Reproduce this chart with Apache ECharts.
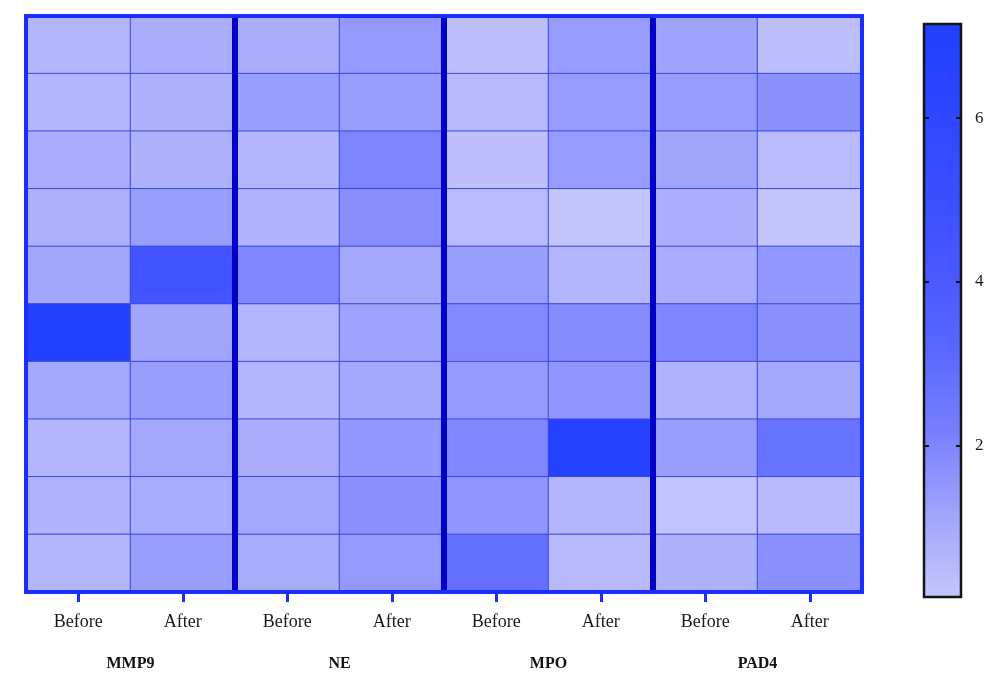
<!DOCTYPE html>
<html><head><meta charset="utf-8">
<script src="https://cdn.jsdelivr.net/npm/echarts@6/dist/echarts.min.js"></script>
<style>html,body{margin:0;padding:0;background:#fff}#c{width:1000px;height:691px}</style>
</head><body><div id="c"></div>
<script>
const markers = ['MMP9', 'NE', 'MPO', 'PAD4'];
const timepoints = ['Before', 'After'];
const rowIds = ['1', '2', '3', '4', '5', '6', '7', '8', '9', '10'];

const mmp9Before = [0.6, 0.65, 0.9, 0.8, 1.1, 7.1, 1.05, 0.65, 0.75, 0.6];
const mmp9After  = [0.9, 0.8, 0.8, 1.35, 4.6, 1.15, 1.35, 1.05, 0.95, 1.35];
const neBefore   = [0.9, 1.35, 0.65, 0.7, 1.95, 0.6, 0.65, 0.9, 1.05, 0.95];
const neAfter    = [1.45, 1.35, 2.05, 1.75, 1.05, 1.2, 1.05, 1.5, 1.7, 1.45];
const mpoBefore  = [0.4, 0.55, 0.35, 0.5, 1.35, 1.9, 1.45, 1.95, 1.55, 2.8];
const mpoAfter   = [1.4, 1.4, 1.4, 0.2, 0.65, 1.85, 1.55, 6.8, 0.65, 0.55];
const pad4Before = [1.2, 1.4, 1.15, 0.85, 0.9, 2.0, 0.75, 1.35, 0.25, 0.8];
const pad4After  = [0.4, 1.7, 0.5, 0.2, 1.5, 1.7, 1.05, 2.7, 0.55, 1.7];

const colorbarTicks = [2, 4, 6];
const scaleMin = 0.15, scaleMax = 7.15;

const columnsData = [mmp9Before, mmp9After, neBefore, neAfter, mpoBefore, mpoAfter, pad4Before, pad4After];

const colorStops = ['#c6c6fc', '#a0a5fc', '#7880fe', '#5a68ff', '#4858ff', '#3a4eff', '#2c45ff', '#2040ff'];

const categories = [];
markers.forEach(m => timepoints.forEach(t => categories.push(m + '|' + t)));

const heatData = [];
columnsData.forEach((col, ci) => col.forEach((v, ri) => heatData.push([ci, ri, v])));

const separators = [];
for (let i = 1; i < markers.length; i++) separators.push({ xAxis: i * timepoints.length });

const chart = echarts.init(document.getElementById('c'), null, { renderer: 'canvas' });
const serif = 'Liberation Serif';

chart.setOption({
  animation: false,
  backgroundColor: '#ffffff',
  grid: [
    { left: 26, top: 16, width: 836, height: 576, show: true, z: 10,
      backgroundColor: 'transparent', borderColor: '#1b2eff', borderWidth: 4 },
    { left: 924, top: 24, width: 37, height: 573, show: true,
      borderColor: '#151515', borderWidth: 2.5,
      backgroundColor: { type: 'linear', x: 0, y: 1, x2: 0, y2: 0,
        colorStops: colorStops.map((c, i) => ({ offset: i / (colorStops.length - 1), color: c })) } }
  ],
  visualMap: {
    show: false, type: 'continuous', min: scaleMin, max: scaleMax, seriesIndex: 0,
    inRange: { color: colorStops }
  },
  xAxis: [
    { gridIndex: 0, type: 'category', position: 'bottom', data: categories,
      axisLine: { show: false },
      axisTick: { show: true, alignWithLabel: true, length: 10, lineStyle: { color: '#1b2eff', width: 3 } },
      axisLabel: { margin: 21, fontFamily: serif, fontSize: 18, color: '#1a1a1a',
        formatter: v => v.split('|')[1] },
      splitLine: { show: false } },
    { gridIndex: 0, type: 'category', position: 'bottom', data: markers,
      axisLine: { show: false }, axisTick: { show: false },
      axisLabel: { margin: 64, fontFamily: serif, fontSize: 16, fontWeight: 'bold', color: '#111' },
      splitLine: { show: false } },
    { gridIndex: 0, type: 'value', position: 'top', min: 0, max: categories.length, show: false },
    { gridIndex: 1, type: 'value', min: 0, max: 1, show: false }
  ],
  yAxis: [
    { gridIndex: 0, type: 'category', data: rowIds, inverse: true, show: false },
    { gridIndex: 1, type: 'value', position: 'left', min: scaleMin, max: scaleMax,
      axisLine: { show: false }, splitLine: { show: false },
      axisTick: { show: true, inside: true, length: 5, customValues: colorbarTicks,
        lineStyle: { color: '#151515', width: 2 } },
      axisLabel: { show: false } },
    { gridIndex: 1, type: 'value', position: 'right', min: scaleMin, max: scaleMax,
      axisLine: { show: false }, splitLine: { show: false },
      axisTick: { show: true, inside: true, length: 5, customValues: colorbarTicks,
        lineStyle: { color: '#151515', width: 2 } },
      axisLabel: { show: true, margin: 14, customValues: colorbarTicks,
        fontFamily: serif, fontSize: 17, color: '#1a1a1a' } }
  ],
  series: [
    { type: 'heatmap', xAxisIndex: 0, yAxisIndex: 0, data: heatData,
      itemStyle: { borderColor: '#3b49dc', borderWidth: 1 },
      emphasis: { disabled: true } },
    { type: 'scatter', xAxisIndex: 2, yAxisIndex: 0, data: [], z: 8, silent: true,
      markLine: { silent: true, symbol: ['none', 'none'], label: { show: false },
        lineStyle: { color: '#0000c8', width: 6, type: 'solid' },
        data: separators } }
  ]
});
</script>
</body></html>
